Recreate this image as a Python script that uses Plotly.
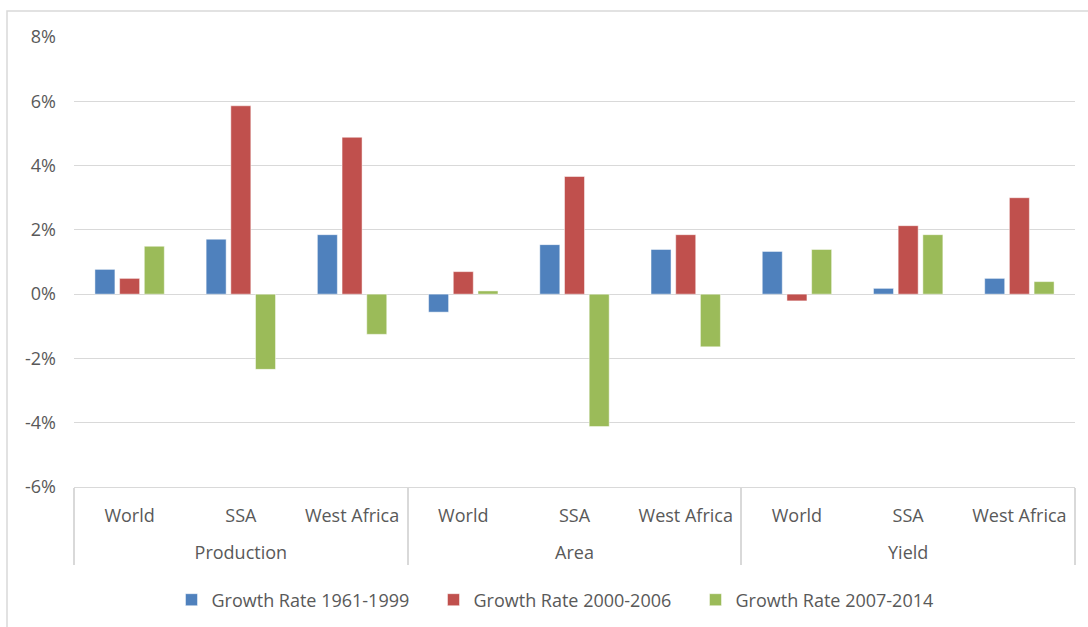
import plotly.graph_objects as go

group_names = ["Production", "Area", "Yield"]
region_names = ["World", "SSA", "West Africa"]
groups = [g for g in group_names for _ in region_names]
regions = region_names * 3

series_names = ["Growth Rate 1961-1999", "Growth Rate 2000-2006", "Growth Rate 2007-2014"]
rate_1961_1999 = [0.77, 1.71, 1.85, -0.56, 1.54, 1.39, 1.33, 0.18, 0.49]
rate_2000_2006 = [0.49, 5.86, 4.88, 0.70, 3.66, 1.85, -0.21, 2.13, 3.00]
rate_2007_2014 = [1.49, -2.34, -1.25, 0.10, -4.12, -1.64, 1.39, 1.85, 0.39]
colors = ["#4F81BD", "#C0504D", "#9BBB59"]

y_ticks = [-6, -4, -2, 0, 2, 4, 6, 8]

FONT = "Open Sans"
FS = 18
GRAY = "#595959"
GRID = "#D9D9D9"

# leading line break pushes the outer category level further down (as in the reference)
group_labels = ["<br>" + g for g in groups]

fig = go.Figure()
for name, vals, col in zip(series_names, [rate_1961_1999, rate_2000_2006, rate_2007_2014], colors):
    fig.add_trace(go.Bar(
        x=[group_labels, regions], y=vals, name=name,
        marker=dict(color=col, line=dict(color="rgba(255,255,255,0.6)", width=0.8)),
    ))

fig.update_layout(
    width=1088, height=627,
    margin=dict(l=74, r=13, t=37, b=140),
    paper_bgcolor="white", plot_bgcolor="white",
    barmode="group", bargap=0.334, bargroupgap=0.19,
    font=dict(family=FONT, size=FS, color=GRAY),
    showlegend=True,
    legend=dict(orientation="h", x=0.49, xanchor="center",
                yref="container", y=1 - 600 / 627, yanchor="middle",
                font=dict(family=FONT, size=FS, color=GRAY), itemwidth=30,
                entrywidth=217, entrywidthmode="pixels",
                traceorder="normal"),
    xaxis=dict(type="multicategory", showgrid=False, showline=True, linecolor=GRID, linewidth=1,
               showdividers=True, dividercolor=GRID, dividerwidth=1.5,
               tickfont=dict(family=FONT, size=FS, color=GRAY), ticks="",
               ticklabelstandoff=12),
    yaxis=dict(range=[-6, 8], tickvals=y_ticks, ticktext=[f"{v}%" for v in y_ticks],
               showgrid=True, gridcolor=GRID, gridwidth=1, zeroline=False, showline=False,
               tickfont=dict(family=FONT, size=FS, color=GRAY), ticklabelstandoff=17),
    shapes=[dict(type="rect", xref="paper", yref="paper",
                 x0=(7 - 74) / 1001, x1=(1100 - 74) / 1001,
                 y0=(487 - 640) / 450, y1=1 + (37 - 11) / 450,
                 line=dict(color=GRID, width=1.5), fillcolor="rgba(0,0,0,0)", layer="below")],
)

fig.write_html("out.html")
